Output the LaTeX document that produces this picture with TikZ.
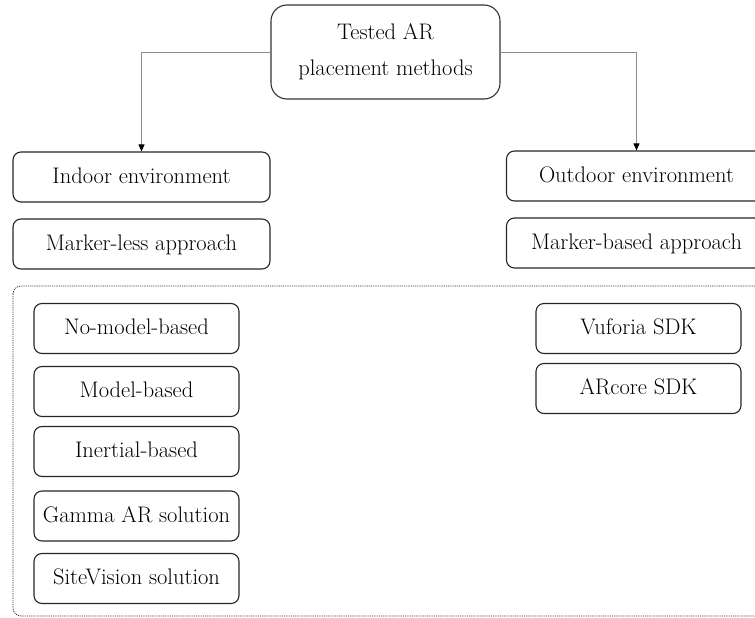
\documentclass[tikz,border=0pt]{standalone}
\usetikzlibrary{arrows.meta}
\begin{document}
\begin{tikzpicture}[x=1pt,y=-1pt,
  every node/.style={font=\fontsize{22.5}{38}\selectfont},
  boxA/.style={draw=black!85,line width=1.1pt,rounded corners=8pt,minimum width=#1,minimum height=50pt,inner sep=0pt,text height=14pt,text depth=2pt},
  boxA/.default=257pt,
  topbox/.style={draw=black!80,line width=1.1pt,rounded corners=16pt,minimum width=229pt,minimum height=94pt,inner sep=0pt,align=center},
  conn/.style={draw=black!45,line width=0.9pt,-{Triangle[length=7pt,width=6pt,black]}},
  dotbox/.style={draw=black!80,line width=0.8pt,dash pattern=on 1.2pt off 1pt,rounded corners=8pt}
]
\useasboundingbox (0,0) rectangle (755,618);
\clip (0,0) rectangle (755,618);
\node[topbox] (top) at (385.5,52) {Tested AR\\[-2pt]placement methods};
\node[boxA] (indoor) at (141.5,177) {Indoor environment};
\node[boxA] (markerless) at (141.5,244) {Marker-less approach};
\node[boxA=260pt] (outdoor) at (636.5,176) {Outdoor environment};
\node[boxA=260pt] (markerbased) at (636.5,243) {Marker-based approach};
\draw[dotbox] (13,286) rectangle (775,616);
\node[boxA=205pt] (nomodel) at (136.5,328.5) {No-model-based};
\node[boxA=205pt] (model) at (136.5,391.5) {Model-based};
\node[boxA=205pt] (inertial) at (136.5,451.5) {Inertial-based};
\node[boxA=205pt] (gamma) at (136.5,516) {Gamma AR solution};
\node[boxA=205pt] (site) at (136.5,578.5) {SiteVision solution};
\node[boxA=205pt] (vuforia) at (638.5,328.5) {Vuforia SDK};
\node[boxA=205pt] (arcore) at (638.5,388.5) {ARcore SDK};
\draw[conn] (top.west) -| (indoor.north);
\draw[conn] (top.east) -| (outdoor.north);
\end{tikzpicture}
\end{document}
